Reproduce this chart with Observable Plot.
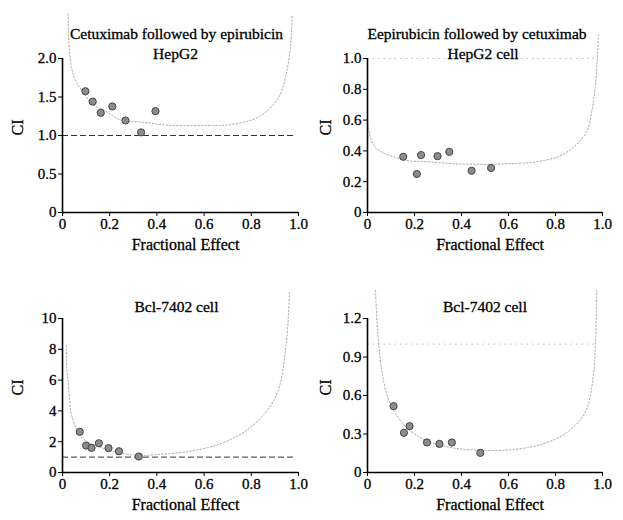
<!DOCTYPE html>
<html>
<head>
<meta charset="utf-8">
<script src="https://cdn.jsdelivr.net/npm/d3@7"></script>
<script src="https://cdn.jsdelivr.net/npm/@observablehq/plot@0.6"></script>
<style>
  html, body { margin: 0; padding: 0; background: #fff; }
  #root { position: relative; width: 623px; height: 520px; background: #fff; }
  #root > div { position: absolute; }
  svg { overflow: visible; }
  #root svg, #root svg text { font-family: "Liberation Serif", "DejaVu Serif", serif !important; }
  #root svg text { stroke: #000; stroke-width: 0.3px; }
</style>
</head>
<body>
<div id="root"></div>
<script>
// ---------- Data ----------
const xTicks = [0, 0.2, 0.4, 0.6, 0.8, 1.0];

// Panel 1: Cetuximab followed by epirubicin, HepG2
const p1Fa = [0.097, 0.128, 0.162, 0.211, 0.267, 0.333, 0.394];
const p1Ci = [1.575, 1.44, 1.295, 1.377, 1.195, 1.04, 1.316];
const c1Fa = [0.024, 0.027, 0.038, 0.055, 0.083, 0.126, 0.182, 0.239, 0.345, 0.46, 0.6, 0.71, 0.818, 0.867, 0.917, 0.945, 0.966, 0.973];
const c1Ci = [2.58, 2.19, 1.89, 1.71, 1.58, 1.41, 1.32, 1.21, 1.17, 1.13, 1.13, 1.14, 1.22, 1.32, 1.5, 1.76, 2.15, 2.56];
const y1Ticks = [0, 0.5, 1.0, 1.5, 2.0];

// Panel 2: Eepirubicin followed by cetuximab, HepG2 cell
const p2Fa = [0.152, 0.21, 0.228, 0.298, 0.348, 0.443, 0.526];
const p2Ci = [0.362, 0.25, 0.373, 0.366, 0.394, 0.271, 0.289];
const c2Fa = [0, 0.009, 0.027, 0.063, 0.12, 0.176, 0.25, 0.394, 0.565, 0.72, 0.82, 0.891, 0.934, 0.955, 0.969, 0.979, 0.983];
const c2Ci = [0.595, 0.51, 0.433, 0.39, 0.357, 0.336, 0.33, 0.315, 0.315, 0.33, 0.368, 0.444, 0.53, 0.66, 0.81, 1.026, 1.155];
const y2Ticks = [0, 0.2, 0.4, 0.6, 0.8, 1.0];

// Panel 3: Bcl-7402 cell (cetuximab -> epirubicin)
const p3Fa = [0.073, 0.1, 0.123, 0.154, 0.195, 0.239, 0.323];
const p3Ci = [2.64, 1.75, 1.6, 1.9, 1.58, 1.38, 1.04];
const c3Fa = [0.017, 0.018, 0.024, 0.028, 0.035, 0.05, 0.07, 0.106, 0.16, 0.23, 0.33, 0.4, 0.515, 0.645, 0.757, 0.855, 0.913, 0.948, 0.962];
const c3Ci = [8.25, 6.73, 5.97, 5.1, 4.0, 3.16, 2.5, 1.97, 1.64, 1.32, 1.1, 1.17, 1.32, 1.75, 2.5, 3.8, 5.3, 8.36, 11.8];
const y3Ticks = [0, 2, 4, 6, 8, 10];

// Panel 4: Bcl-7402 cell (epirubicin -> cetuximab)
const p4Fa = [0.111, 0.155, 0.179, 0.253, 0.306, 0.359, 0.48];
const p4Ci = [0.517, 0.309, 0.361, 0.234, 0.223, 0.234, 0.153];
const c4Fa = [0.034, 0.041, 0.048, 0.06, 0.074, 0.091, 0.112, 0.14, 0.18, 0.25, 0.35, 0.435, 0.605, 0.747, 0.86, 0.93, 0.96, 0.97, 0.976];
const c4Ci = [1.42, 1.16, 1.0, 0.795, 0.665, 0.56, 0.48, 0.405, 0.327, 0.25, 0.197, 0.177, 0.177, 0.223, 0.327, 0.483, 0.74, 1.0, 1.42];
const y4Ticks = [0, 0.3, 0.6, 0.9, 1.2];

const titles1 = ["Cetuximab followed by epirubicin", "HepG2"];
const titles2 = ["Eepirubicin followed by cetuximab", "HepG2 cell"];
const titles3 = ["Bcl-7402 cell"];
const titles4 = ["Bcl-7402 cell"];

// ---------- Drawing ----------
const FONT = "'Liberation Serif', 'DejaVu Serif', serif";
const fmtDec = d => d === 0 ? "0" : d.toFixed(1);
const fmtInt = d => String(d);

function panel(o) {
  const pts = o.fa.map((f, i) => ({fa: f, ci: o.ci[i]}));
  const crv = o.cFa.map((f, i) => ({fa: f, ci: o.cCi[i]}));
  const ymax = o.yTicks[o.yTicks.length - 1];
  const refStyle = o.refDark
    ? {stroke: "#333", strokeWidth: 1, strokeDasharray: "6,3"}
    : {stroke: "#bbb", strokeWidth: 1, strokeDasharray: "1.5,4"};
  const marks = [
    Plot.ruleY([1], {x1: 0, x2: 0.98, ...refStyle}),
    Plot.line(crv, {x: "fa", y: "ci", curve: "catmull-rom", stroke: "#a8a8a8", strokeWidth: 1, strokeDasharray: "1.5,2"}),
    Plot.dot(pts, {x: "fa", y: "ci", r: 3.6, fill: "#8c8c8c", stroke: "#444", strokeWidth: 1}),
    Plot.axisX({ticks: xTicks, tickFormat: fmtDec, tickSize: 4, tickPadding: 2, label: null, fontSize: 15}),
    Plot.axisY({ticks: o.yTicks, tickFormat: o.yFmt, tickSize: 4, tickPadding: 2, label: null, fontSize: 15}),
    Plot.ruleX([0], {y1: 0, y2: ymax, stroke: "#000", strokeWidth: 1.6}),
    Plot.ruleY([0], {x1: 0, x2: 1, stroke: "#000", strokeWidth: 1.6}),
    Plot.text(["Fractional Effect"], {frameAnchor: "bottom", dy: 37, dx: 5, fontSize: 16, fill: "#000"}),
    Plot.text(["CI"], {frameAnchor: "left", dx: o.ciDx, rotate: -90, fontSize: 16, fill: "#000"})
  ];
  o.titles.forEach((t, i) => {
    const dy = o.titles.length === 2 ? (i === 0 ? -31 : -11) : -18;
    marks.push(Plot.text([t], {frameAnchor: "top", dy, dx: o.titleDx[i], fontSize: 15.5, fill: "#000"}));
  });
  const chart = Plot.plot({
    width: o.width,
    height: 260,
    marginLeft: o.ml,
    marginRight: o.mr,
    marginTop: 58,
    marginBottom: 48,
    x: {domain: [0, 1]},
    y: {domain: [0, ymax]},
    style: {fontFamily: FONT, fontSize: "15px", color: "#000", background: "transparent", overflow: "visible"},
    marks
  });
  const wrap = document.createElement("div");
  wrap.style.left = o.left + "px";
  wrap.style.top = o.top + "px";
  wrap.appendChild(chart);
  document.getElementById("root").appendChild(wrap);
}

panel({left: 0, top: 0, width: 310, ml: 62, mr: 12, fa: p1Fa, ci: p1Ci, cFa: c1Fa, cCi: c1Ci, yTicks: y1Ticks, yFmt: fmtDec, refDark: true, titles: titles1, titleDx: [-4, -5], ciDx: -45});
panel({left: 310, top: 0, width: 313, ml: 57, mr: 21, fa: p2Fa, ci: p2Ci, cFa: c2Fa, cCi: c2Ci, yTicks: y2Ticks, yFmt: fmtDec, refDark: false, titles: titles2, titleDx: [-8, -2], ciDx: -42});
panel({left: 0, top: 260, width: 310, ml: 62, mr: 12, fa: p3Fa, ci: p3Ci, cFa: c3Fa, cCi: c3Ci, yTicks: y3Ticks, yFmt: fmtInt, refDark: true, titles: titles3, titleDx: [-4], ciDx: -45});
panel({left: 310, top: 260, width: 313, ml: 57, mr: 21, fa: p4Fa, ci: p4Ci, cFa: c4Fa, cCi: c4Ci, yTicks: y4Ticks, yFmt: fmtDec, refDark: false, titles: titles4, titleDx: [0], ciDx: -42});
</script>
</body>
</html>
